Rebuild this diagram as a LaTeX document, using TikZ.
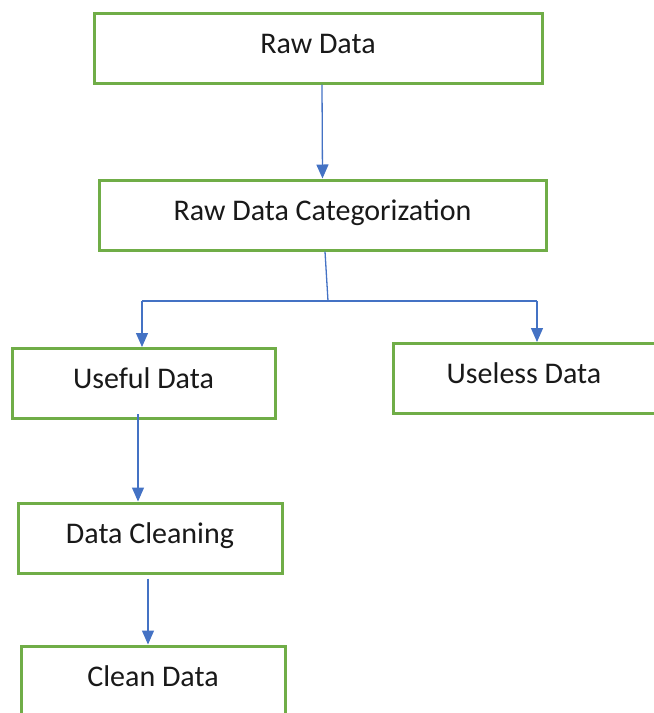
\documentclass[tikz,border=0pt]{standalone}
\usepackage{fontspec}
\setmainfont{Carlito}
\usepackage{xcolor}
\usepackage{tikz}
\usetikzlibrary{arrows.meta,positioning}
\definecolor{boxgreen}{RGB}{112,173,71}
\definecolor{flowblue}{RGB}{68,114,196}

\begin{document}
\begin{tikzpicture}[x=1pt,y=-1pt,
		stage/.style={draw=boxgreen,line width=3pt,fill=white,inner sep=0pt,minimum height=70pt,text height=20pt,text depth=10pt,font=\fontsize{30}{36}\selectfont,text=black!90},
		flow/.style={draw=flowblue,line width=1.3pt,-{Triangle[length=14pt,width=12pt]}},
		link/.style={draw=flowblue,line width=1.3pt}]
			\useasboundingbox (0,0) rectangle (654,713);
			\clip (0,0) rectangle (654,713);
			
			\node[stage,minimum width=448pt] (raw) at (318,48) {Raw Data};
			\node[stage,minimum width=447pt] (cat) at (322.5,215) {Raw Data Categorization};
			\node[stage,minimum width=263pt] (useful) at (143.5,383.5) {Useful Data};
			\node[stage,minimum width=262pt] (useless) at (524,378.5) {Useless Data};
			\node[stage,minimum width=264pt] (cleaning) at (150,538) {Data Cleaning};
			\node[stage,minimum width=264pt] (clean) at (153,681) {Clean Data};
			
			\coordinate (split) at (328,301);
			\coordinate (splitl) at (142,301);
			\coordinate (splitr) at (537,301);
			
			\draw[flow] ([xshift=4pt]raw.south) -- (cat.north);
			\draw[link] ([xshift=2.5pt]cat.south) -- (split);
			\draw[link] (splitl) -- (splitr);
			\draw[flow] (splitl) -- ([xshift=-1.5pt]useful.north);
			\draw[flow] (splitr) -- ([xshift=13pt]useless.north);
			\draw[flow] ([xshift=-5.5pt,yshift=6pt]useful.south) -- ([xshift=-12pt]cleaning.north);
			\draw[flow] ([xshift=-2pt,yshift=-4pt]cleaning.south) -- ([xshift=-5pt]clean.north);
		\end{tikzpicture}
\end{document}
